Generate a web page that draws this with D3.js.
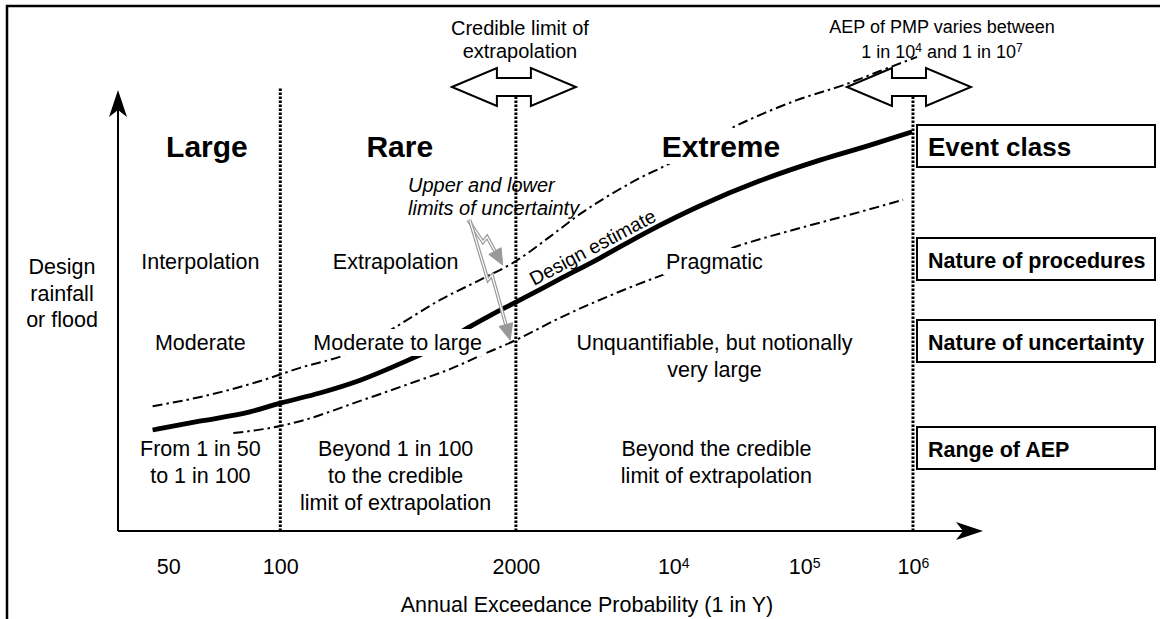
<!DOCTYPE html>
<html><head><meta charset="utf-8">
<script src="https://cdn.jsdelivr.net/npm/d3@7"></script>
<style>
body{margin:0;background:#fff}
svg text{font-family:"Liberation Sans",Arial,Helvetica,sans-serif;fill:#000}
</style>
</head><body>
<svg id="chart" width="1160" height="619"></svg>
<script>
// ---------------- data ----------------
// x: conceptual position along the AEP axis (0..105); y: relative magnitude (0..100)
const tickPositions = [6.1, 19.7, 48.3, 67.4, 83.3, 96.5];
const tickBase      = ["50", "100", "2000", "10", "10", "10"];
const tickExponent  = ["", "", "", "4", "5", "6"];
const boundaries    = [19.7, 48.3, 96.5];   // 1 in 100 | credible limit | PMP

const designX = [4.2, 9.9, 16.0, 19.7, 24.5, 29.4, 34.2, 39.1, 42.4, 45.1, 48.3, 53.6, 58.5, 64.2, 70.6, 77.9, 85.2, 91.3, 96.4];
const designY = [22.9, 24.9, 27.0, 29.0, 31.3, 34.2, 37.9, 42.2, 46.0, 48.8, 51.9, 57.1, 61.9, 67.8, 73.7, 79.4, 84.1, 87.5, 90.5];

const upperX = [4.2, 10.0, 17.6, 22.1, 28.2, 33.9, 39.1, 43.9, 48.3, 52.4, 56.1, 59.7, 63.3, 66.6, 70.6, 74.3, 78.5, 82.4, 88.5, 92.5, 97.0];
const upperY = [28.3, 30.4, 34.2, 37.0, 40.4, 46.5, 52.4, 56.9, 61.2, 66.7, 71.9, 76.2, 80.0, 83.0, 87.3, 91.2, 94.8, 97.7, 101.4, 104.3, 107.5];

const lowerX = [14.0, 17.6, 19.7, 22.1, 29.4, 36.3, 40.3, 43.9, 48.3, 53.6, 61.3, 67.0, 75.7, 82.8, 88.8, 95.3];
const lowerY = [22.2, 23.1, 23.8, 24.9, 29.5, 34.0, 36.7, 39.7, 43.3, 48.3, 54.6, 58.7, 64.9, 68.7, 71.7, 75.1];

const classNames    = ["Large", "Rare", "Extreme"];
const classCentres  = [10.8, 34.2, 73.2];
const procedures    = ["Interpolation", "Extrapolation", "Pragmatic"];
const uncertainty   = [["Moderate"], ["Moderate to large"], ["Unquantifiable, but notionally", "very large"]];
const aepRanges     = [["From 1 in 50", "to 1 in 100"], ["Beyond 1 in 100", "to the credible", "limit of extrapolation"], ["Beyond the credible", "limit of extrapolation"]];
const columnCentres = [10.0, 33.7, 72.4];
const rowTitles     = ["Event class", "Nature of procedures", "Nature of uncertainty", "Range of AEP"];
const yAxisTitle    = ["Design", "rainfall", "or flood"];
const xAxisTitle    = "Annual Exceedance Probability (1 in Y)";

// ---------------- layout ----------------
const svg = d3.select("#chart");
const x = d3.scaleLinear().domain([0, 105]).range([118, 983]);
const y = d3.scaleLinear().domain([0, 100]).range([531, 90]);
const FONT = 21.5;

// outer frame (cropped figure border)
svg.append("path").attr("d", "M7,619 L7,6 L1160,6").attr("fill", "none").attr("stroke", "#000").attr("stroke-width", 2.5);

const toPts = (xs, ys) => xs.map((v, i) => [v, ys[i]]);
const line = d3.line().x(d => x(d[0])).y(d => y(d[1])).curve(d3.curveMonotoneX);

// curves
const gCurves = svg.append("g");
gCurves.append("path").attr("d", line(toPts(upperX, upperY))).attr("fill", "none").attr("stroke", "#000").attr("stroke-width", 2).attr("stroke-dasharray", "10,4,2.5,4");
gCurves.append("path").attr("d", line(toPts(lowerX, lowerY))).attr("fill", "none").attr("stroke", "#000").attr("stroke-width", 2).attr("stroke-dasharray", "10,4,2.5,4");
gCurves.append("path").attr("d", line(toPts(designX, designY))).attr("fill", "none").attr("stroke", "#000").attr("stroke-width", 4.8).attr("stroke-linecap", "butt");

// text helper with optional knockout background
const gText = svg.append("g");
function label(cx, baseline, lines, opts = {}) {
  const size = opts.size || FONT, lh = opts.lh || 27;
  const g = gText.append("g");
  const t = g.append("text").attr("text-anchor", opts.anchor || "middle")
    .attr("font-size", size).attr("font-weight", opts.bold ? "bold" : "normal")
    .attr("font-style", opts.italic ? "italic" : "normal");
  lines.forEach((s, i) => t.append("tspan").attr("x", cx).attr("y", baseline + i * lh).text(s));
  if (opts.knockout) {
    const b = t.node().getBBox();
    g.insert("rect", "text").attr("x", b.x - 3).attr("y", b.y - 2).attr("width", b.width + 6).attr("height", b.height + 3).attr("fill", "#fff");
  }
  return t;
}

// event class headings
classNames.forEach((n, i) => label(x(classCentres[i]), 157, [n], {size: 30, bold: true, knockout: n === "Extreme"}));
// procedures
procedures.forEach((n, i) => label(x(columnCentres[i]), 269, [n], {knockout: i > 0}));
// uncertainty
uncertainty.forEach((ls, i) => label(x(columnCentres[i]) + (i === 1 ? 2 : 0), 350, ls, {knockout: i === 1}));
// AEP ranges
aepRanges.forEach((ls, i) => label(x(columnCentres[i]) + (i === 2 ? 2 : 0), 456, ls));

// y-axis title
label(62, 274, yAxisTitle, {lh: 26.5});
// x-axis title
label(587, 612, [xAxisTitle]);

// annotations
label(x(boundaries[1]) + 4, 35, ["Credible limit of", "extrapolation"], {size: 20, lh: 23});
gText.append("text").attr("text-anchor", "middle").attr("font-size", 18)
  .attr("x", 942).attr("y", 33).text("AEP of PMP varies between");
const l2 = gText.append("text").attr("text-anchor", "middle").attr("font-size", 18).attr("x", 942).attr("y", 58);
l2.append("tspan").text("1 in 10");
l2.append("tspan").attr("font-size", 12).attr("dy", -6).text("4");
l2.append("tspan").attr("dy", 6).text(" and 1 in 10");
l2.append("tspan").attr("font-size", 12).attr("dy", -6).text("7");

label(408, 192, ["Upper and lower", "limits of uncertainty"], {size: 20, italic: true, anchor: "start", lh: 23});

// design estimate label along the curve
const dl = [58.0, 63.0];
gText.append("text").attr("font-size", 19.5).attr("text-anchor", "middle")
  .attr("transform", `translate(${x(dl[0])},${y(dl[1])}) rotate(-28)`).text("Design estimate");

// dotted boundary lines
svg.append("g").selectAll("line").data(boundaries).join("line")
  .attr("x1", d => x(d)).attr("x2", d => x(d)).attr("y1", y(0)).attr("y2", y(100) - 2)
  .attr("stroke", "#000").attr("stroke-width", 3).attr("stroke-dasharray", "2.5,1.5");

// axes
const gAx = svg.append("g");
gAx.append("line").attr("x1", x(0)).attr("x2", x(0)).attr("y1", y(0)).attr("y2", y(100) + 12).attr("stroke", "#000").attr("stroke-width", 2);
gAx.append("path").attr("d", `M${x(0)},${y(100)} L${x(0) - 9},${y(100) + 27} L${x(0)},${y(100) + 20} L${x(0) + 9},${y(100) + 27} Z`).attr("fill", "#000");
gAx.append("line").attr("x1", x(0)).attr("x2", x(105) - 12).attr("y1", y(0)).attr("y2", y(0)).attr("stroke", "#000").attr("stroke-width", 2);
gAx.append("path").attr("d", `M${x(105)},${y(0)} L${x(105) - 27},${y(0) - 9} L${x(105) - 20},${y(0)} L${x(105) - 27},${y(0) + 9} Z`).attr("fill", "#000");

const xAxis = d3.axisBottom(x).tickValues(tickPositions).tickSize(0).tickPadding(28).tickFormat("");
const gx = svg.append("g").attr("transform", `translate(0,${y(0)})`).call(xAxis);
gx.select(".domain").remove();
gx.selectAll(".tick text").attr("font-size", FONT).attr("font-family", "Liberation Sans, Arial, sans-serif").attr("fill", "#000")
  .each(function(d, i) {
    const t = d3.select(this);
    t.text(null);
    t.append("tspan").text(tickBase[i]);
    if (tickExponent[i]) t.append("tspan").attr("font-size", 14).attr("dy", "-0.45em").text(tickExponent[i]);
  });

// block double arrows
function doubleArrow(cx, cy) {
  const W = 62, hb = 17, H = 19, s = 9;
  const p = [[cx - W, cy], [cx - hb, cy - H], [cx - hb, cy - s], [cx + hb, cy - s], [cx + hb, cy - H], [cx + W, cy],
             [cx + hb, cy + H], [cx + hb, cy + s], [cx - hb, cy + s], [cx - hb, cy + H]];
  svg.append("path").attr("d", "M" + p.join("L") + "Z").attr("fill", "#fff").attr("stroke", "#000").attr("stroke-width", 2);
}
doubleArrow(x(boundaries[1]) - 2, y(100) - 3);
doubleArrow(x(boundaries[2]) - 4, y(100) - 3);

// lightning-style pointer arrows (grey outline)
const bolts = [
  [[42.5, 70.5], [44.3, 65.5], [44.8, 66.7], [46.7, 60.3]],
  [[42.7, 70.5], [44.9, 56.9], [45.4, 58.0], [47.6, 43.3]]
];
bolts.forEach(b => {
  const pts = b.map(d => [x(d[0]), y(d[1])]);
  const tip = pts[pts.length - 1], prev = pts[pts.length - 2];
  const ang = Math.atan2(tip[1] - prev[1], tip[0] - prev[0]);
  const L = 16, Wd = 7;
  const base = [tip[0] - L * Math.cos(ang), tip[1] - L * Math.sin(ang)];
  const stem = "M" + pts.slice(0, -1).concat([base]).join("L");
  svg.append("path").attr("d", stem).attr("fill", "none").attr("stroke", "#999").attr("stroke-width", 3.6).attr("stroke-linejoin", "miter");
  svg.append("path").attr("d", stem).attr("fill", "none").attr("stroke", "#fff").attr("stroke-width", 1.2).attr("stroke-linejoin", "miter");
  const h1 = [base[0] + Wd * Math.sin(ang), base[1] - Wd * Math.cos(ang)];
  const h2 = [base[0] - Wd * Math.sin(ang), base[1] + Wd * Math.cos(ang)];
  svg.append("path").attr("d", `M${tip}L${h1}L${h2}Z`).attr("fill", "#999").attr("stroke", "#999").attr("stroke-width", 1);
});

// row title boxes
const boxTops = [125, 238, 320, 427];
const gBox = svg.append("g");
rowTitles.forEach((t, i) => {
  gBox.append("rect").attr("x", 917).attr("y", boxTops[i]).attr("width", 238).attr("height", 42)
    .attr("fill", "#fff").attr("stroke", "#000").attr("stroke-width", 2);
  gBox.append("text").attr("x", 928).attr("y", boxTops[i] + (i === 0 ? 31 : 30))
    .attr("font-size", i === 0 ? 26 : 21.5).attr("font-weight", "bold").text(t);
});
</script>
</body></html>
